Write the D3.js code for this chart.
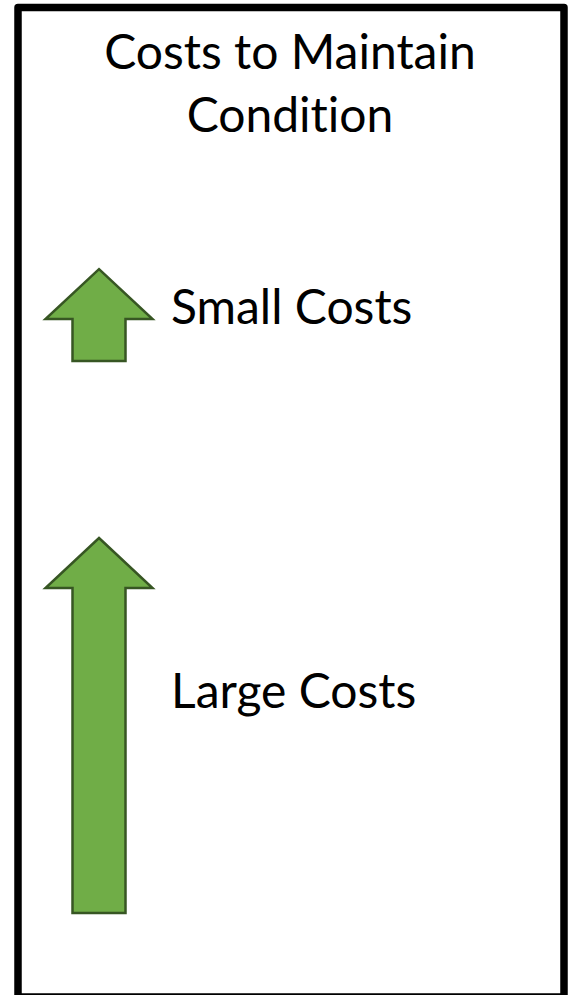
<!DOCTYPE html>
<html>
<head>
<meta charset="utf-8">
<script src="https://cdn.jsdelivr.net/npm/d3@7"></script>
<style>
  body { margin: 0; background: #fff; }
  svg { display: block; }
  text { font-variant-ligatures: none; }
</style>
</head>
<body>
<svg id="chart" width="577" height="995"></svg>
<script>
// data
let titleLines = ["Costs to Maintain", "Condition"];
let categories = ["Small Costs", "Large Costs"];
let costs = [1, 4.08];   // relative arrow length

let width = 577, height = 995;
let fontFamily = "Lato, 'Open Sans', sans-serif";
let fill = "#70ad47", stroke = "#375623";

let svg = d3.select("#chart");

// frame
svg.append("rect")
  .attr("x", 18).attr("y", 7.5)
  .attr("width", 546).attr("height", 989.5)
  .attr("fill", "#fff")
  .attr("stroke", "#000")
  .attr("stroke-width", 7.5)
  .attr("stroke-linejoin", "round");

// title
svg.selectAll("text.title")
  .data(titleLines)
  .enter().append("text")
  .attr("class", "title")
  .attr("x", 290)
  .attr("y", (d, i) => 69 + i * 63)
  .attr("text-anchor", "middle")
  .style("font-family", fontFamily)
  .style("font-size", "48px")
  .attr("fill", "#000")
  .text(d => d);

/**
 * arrow length scale, arrows sit on their row base
 */
let rowBase = [361, 913];
let lenScale = d3.scaleLinear().domain([0, d3.max(costs)]).range([0, 375]);
let cx = 99, shaftW = 53, headW = 107, headH = 50;

function arrowPath(base, len) {
  let top = base - len;
  let p = d3.path();
  p.moveTo(cx, top);
  p.lineTo(cx + headW / 2, top + headH);
  p.lineTo(cx + shaftW / 2, top + headH);
  p.lineTo(cx + shaftW / 2, base);
  p.lineTo(cx - shaftW / 2, base);
  p.lineTo(cx - shaftW / 2, top + headH);
  p.lineTo(cx - headW / 2, top + headH);
  p.closePath();
  return p.toString();
}

svg.selectAll("path.arrow")
  .data(costs)
  .enter().append("path")
  .attr("class", "arrow")
  .attr("d", (d, i) => arrowPath(rowBase[i], lenScale(d)))
  .attr("fill", fill)
  .attr("stroke", stroke)
  .attr("stroke-width", 2.5)
  .attr("stroke-linejoin", "miter");

// labels
let labelY = [324, 708];
svg.selectAll("text.label")
  .data(categories)
  .enter().append("text")
  .attr("class", "label")
  .attr("x", 171)
  .attr("y", (d, i) => labelY[i])
  .style("font-family", fontFamily)
  .style("font-size", "48px")
  .attr("fill", "#000")
  .text(d => d);
</script>
</body>
</html>
